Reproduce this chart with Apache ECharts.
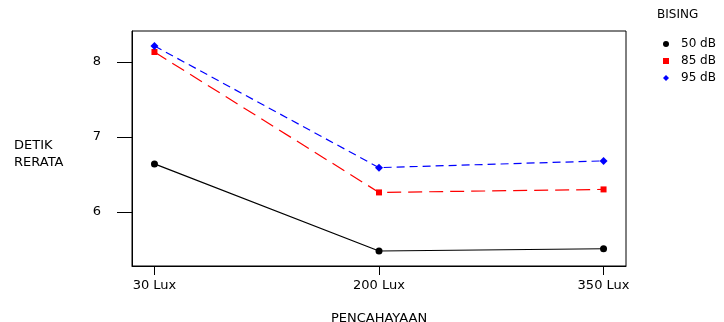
<!DOCTYPE html>
<html>
<head>
<meta charset="utf-8">
<script src="https://cdn.jsdelivr.net/npm/echarts@6/dist/echarts.min.js"></script>
<style>
  html, body { margin: 0; padding: 0; background: #fff; }
  #chart { width: 724px; height: 322px; }
</style>
</head>
<body>
<div id="chart"></div>
<script>
  // data
  const categories = ['30 Lux', '200 Lux', '350 Lux']
  const seriesNames = ['50 dB', '85 dB', '95 dB']
  const db50 = [6.64, 5.48, 5.51]
  const db85 = [8.13, 6.26, 6.30]
  const db95 = [8.21, 6.59, 6.68]
  const yTicks = [6, 7, 8]

  const font = 'DejaVu Sans, Liberation Sans, sans-serif'
  const charts = echarts.init(document.getElementById('chart'))

  function pts(arr) {
    return arr.map((v, i) => [i, v])
  }

  const option = {
    animation: false,
    textStyle: { fontFamily: font },
    grid: {
      left: 132,
      right: 98,
      top: 31,
      bottom: 56,
      outerBoundsMode: 'none',
      containLabel: false,
      show: true,
      borderColor: '#000',
      borderWidth: 1,
      backgroundColor: 'transparent'
    },
    legend: {
      orient: 'vertical',
      left: 658,
      top: 33,
      itemWidth: 6,
      itemHeight: 6,
      itemGap: 5,
      textStyle: { color: '#000', fontSize: 12, fontFamily: font, padding: [0, 0, 0, 7] },
      data: [
        { name: seriesNames[0], icon: 'circle' },
        { name: seriesNames[1], icon: 'rect', itemStyle: { color: '#ff0000' } },
        { name: seriesNames[2], icon: 'diamond' }
      ]
    },
    graphic: [
      {
        type: 'text', left: 657, top: 9,
        style: { text: 'BISING', fill: '#000', font: '12px ' + font }
      },
      {
        type: 'text', left: 14, top: 137,
        style: { text: 'DETIK\nRERATA', fill: '#000', font: '13px ' + font, lineHeight: 17 }
      }
    ],
    xAxis: {
      type: 'value',
      min: -0.1,
      max: 2.1,
      name: 'PENCAHAYAAN',
      nameLocation: 'middle',
      nameGap: 46,
      nameTextStyle: { color: '#000', fontSize: 13, fontFamily: font },
      axisLine: { show: true, onZero: false, lineStyle: { color: '#000' } },
      splitLine: { show: false },
      axisTick: {
        show: true,
        length: 9,
        customValues: [0, 1, 2],
        lineStyle: { color: '#000' }
      },
      axisLabel: {
        customValues: [0, 1, 2],
        margin: 13,
        color: '#000',
        fontSize: 13,
        fontFamily: font,
        formatter: v => categories[Math.round(v)]
      }
    },
    yAxis: {
      type: 'value',
      min: 5.28,
      max: 8.41,
      axisLine: { show: true, onZero: false, lineStyle: { color: '#000' } },
      splitLine: { show: false },
      axisTick: {
        show: true,
        inside: false,
        length: 15,
        customValues: yTicks,
        lineStyle: { color: '#000' }
      },
      axisLabel: {
        customValues: yTicks,
        margin: 31,
        color: '#000',
        fontSize: 13,
        fontFamily: font
      }
    },
    series: [
      {
        name: seriesNames[0],
        type: 'line',
        data: pts(db50),
        symbol: 'circle',
        symbolSize: 7,
        itemStyle: { color: '#000' },
        lineStyle: { color: '#000', width: 1.2 }
      },
      {
        name: seriesNames[1],
        type: 'line',
        data: pts(db85),
        symbol: 'rect',
        symbolSize: 6,
        itemStyle: { color: '#ff0000' },
        lineStyle: { color: '#ff0000', width: 1.2, type: [14, 7] }
      },
      {
        name: seriesNames[2],
        type: 'line',
        data: pts(db95),
        symbol: 'diamond',
        symbolSize: 8,
        itemStyle: { color: '#0000ff' },
        lineStyle: { color: '#0000ff', width: 1.2, type: [8, 5] }
      }
    ]
  }

  charts.setOption(option)
  window.addEventListener('resize', () => {
    charts.resize()
  })
</script>
</body>
</html>
